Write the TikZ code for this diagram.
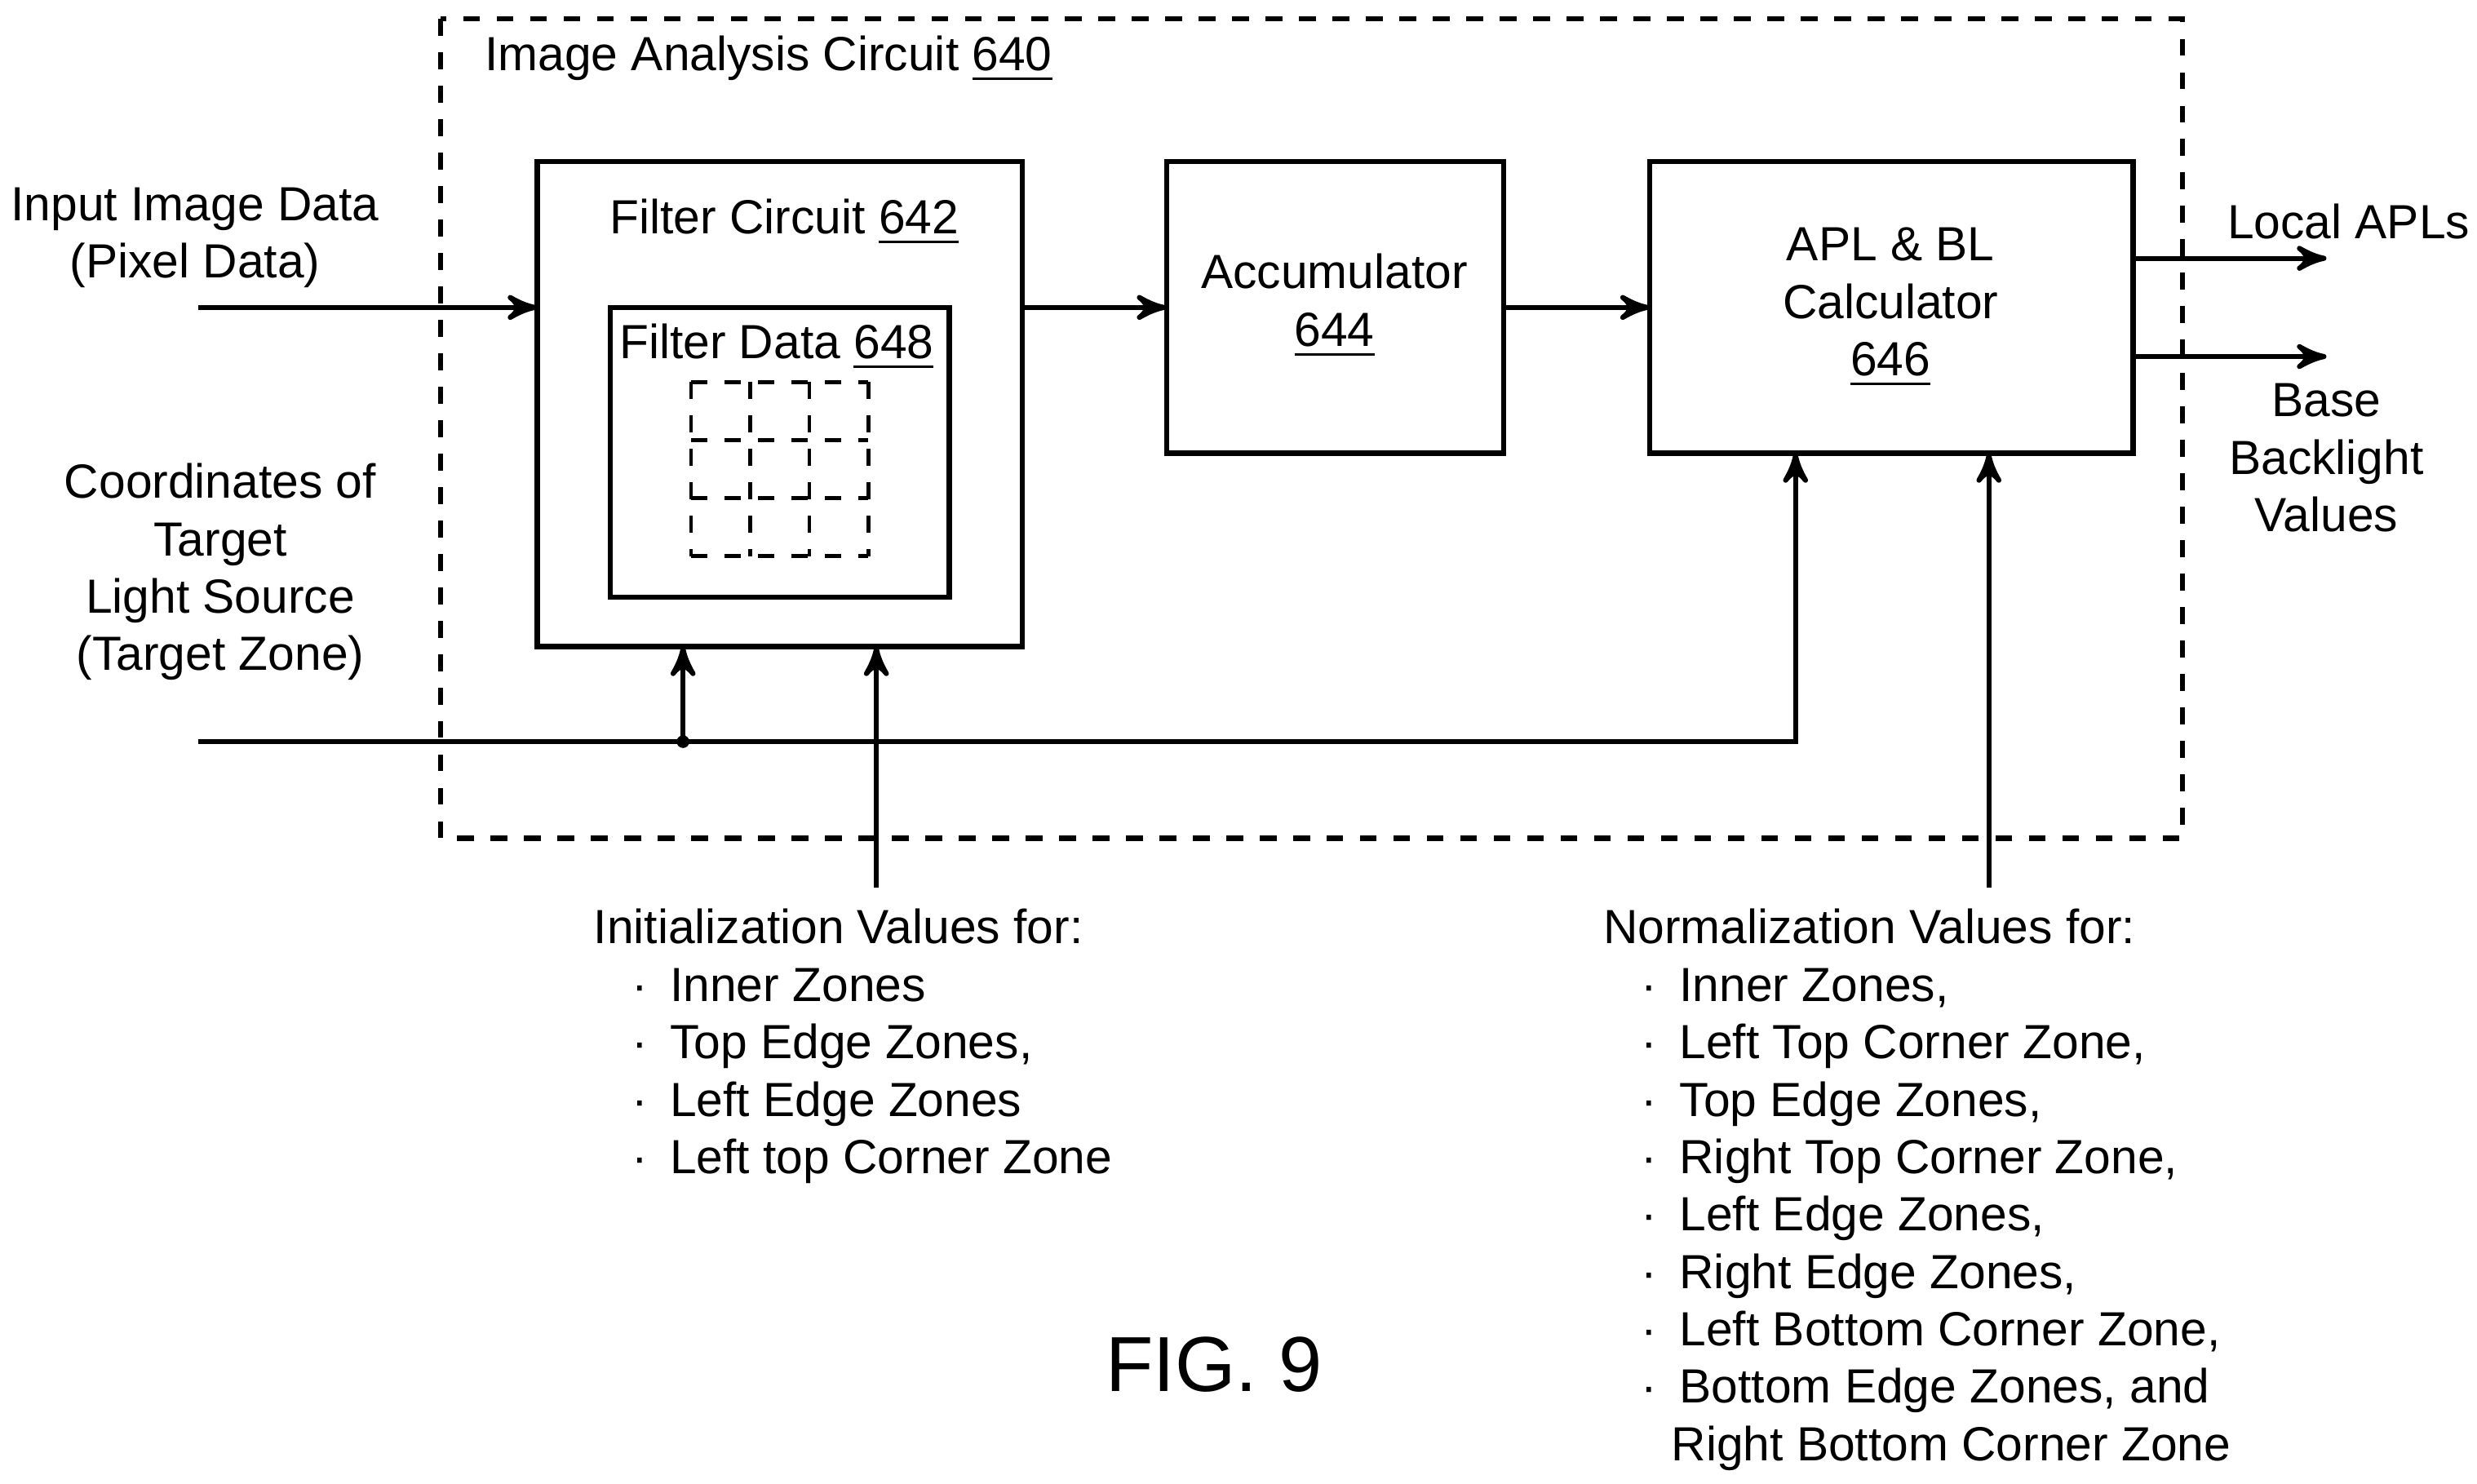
\documentclass[tikz,border=0pt]{standalone}
\usepackage{fontspec}
\setmainfont{Liberation Sans}
\usetikzlibrary{arrows,positioning}
\tikzset{
  >=stealth'
}
\newcommand{\bul}{\hspace*{2.4mm}·\hspace{1.4mm}}
\newcommand{\nobul}{\hspace*{4.3mm}}

\begin{document}
\begin{tikzpicture}[x=0.01cm,y=-0.01cm,
  block/.style={draw=black,line width=0.9pt},
  txt/.style={font=\fontsize{8.6}{10.3}\selectfont,align=center,inner sep=0pt},
  lst/.style={font=\fontsize{8.6}{10.3}\selectfont,align=left,inner sep=0pt,anchor=north west},
  wire/.style={line width=0.9pt}]
        \useasboundingbox (0,0) rectangle (1563,936);
        % blocks
        \draw[block,dashed] (278,12) rectangle (1377,529);
        \draw[block] (339,102) rectangle (645,408);
        \draw[block] (385,194) rectangle (599,377);
        \draw[block] (736,102) rectangle (949,286);
        \draw[block] (1041,102) rectangle (1346,286);
        \foreach \gx in {436,473.3,510.7,548}
          \draw[line width=0.7pt,dashed] (\gx,241) -- (\gx,351);
        \foreach \gy in {241,277.7,314.3,351}
          \draw[line width=0.7pt,dashed] (436,\gy) -- (548,\gy);

        \node (IAC) at (485,37) [txt] {Image Analysis Circuit \underline{640}};
        \node (FC) at (495,140) [txt] {Filter Circuit \underline{642}};
        \node (FD) at (490,219) [txt] {Filter Data \underline{648}};
        \node (ACC) at (842,193) [txt] {Accumulator\\\underline{644}};
        \node (APL) at (1193,194) [txt] {APL \& BL\\Calculator\\\underline{646}};

        % anchors
        \coordinate (IN) at (125,194);
        \coordinate (FCw) at (339,194);
        \coordinate (FCe) at (645,194);
        \coordinate (ACw) at (736,194);
        \coordinate (ACe) at (949,194);
        \coordinate (APw) at (1041,194);
        \coordinate (O1a) at (1346,163);
        \coordinate (O1b) at (1468,163);
        \coordinate (O2a) at (1346,225);
        \coordinate (O2b) at (1468,225);
        \coordinate (CO) at (125,468);
        \coordinate (DOT) at (431,468);
        \coordinate (FCs1) at (431,408);
        \coordinate (CC) at (1133,468);
        \coordinate (APs1) at (1133,286);
        \coordinate (INIT) at (553,560);
        \coordinate (FCs2) at (553,408);
        \coordinate (NORM) at (1255,560);
        \coordinate (APs2) at (1255,286);

        \draw[wire,->] (IN) -- (FCw);
        \draw[wire,->] (FCe) -- (ACw);
        \draw[wire,->] (ACe) -- (APw);
        \draw[wire,->] (O1a) -- (O1b);
        \draw[wire,->] (O2a) -- (O2b);
        \draw[wire,->] (CO) -- (CC) -- (APs1);
        \draw[wire,->] (DOT) -- (FCs1);
        \fill (DOT) circle (4);
        \draw[wire,->] (INIT) -- (FCs2);
        \draw[wire,->] (NORM) -- (APs2);

        % labels
        \node (LIN) at (123,150) [txt] {Input Image Data\\(Pixel Data)};
        \node (LCO) at (139,361) [txt] {Coordinates of\\Target\\Light Source\\(Target Zone)};
        \node (LAPL) at (1482,140) [txt] {Local APLs};
        \node (LBB) at (1468,289) [txt] {Base\\Backlight\\Values};
        \node (LINIT) at (374,573) [lst] {Initialization Values for:\\
          \bul Inner Zones\\
          \bul Top Edge Zones,\\
          \bul Left Edge Zones\\
          \bul Left top Corner Zone};
        \node (LNORM) at (1011,573) [lst] {Normalization Values for:\\
          \bul Inner Zones,\\
          \bul Left Top Corner Zone,\\
          \bul Top Edge Zones,\\
          \bul Right Top Corner Zone,\\
          \bul Left Edge Zones,\\
          \bul Right Edge Zones,\\
          \bul Left Bottom Corner Zone,\\
          \bul Bottom Edge Zones, and\\
          \nobul Right Bottom Corner Zone};
        \node (FIG) at (766,861) [txt,font=\fontsize{14}{16}\selectfont] {FIG. 9};
    \end{tikzpicture}
\end{document}
